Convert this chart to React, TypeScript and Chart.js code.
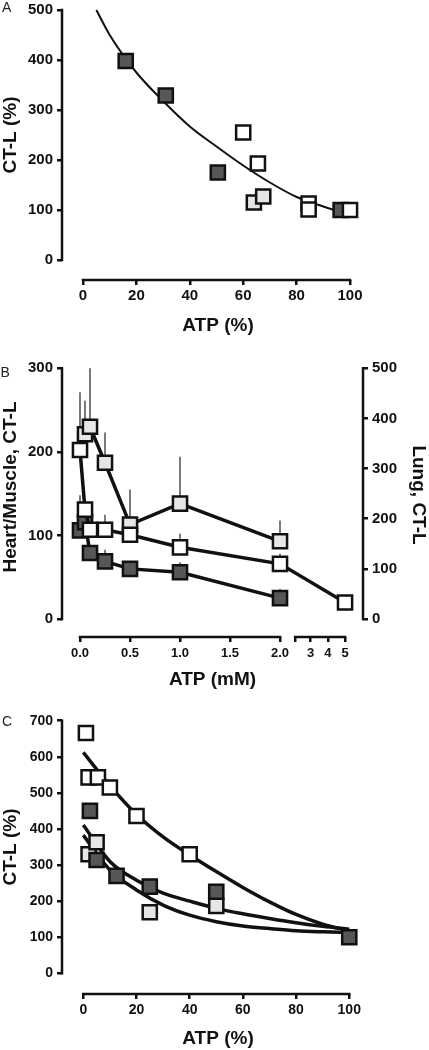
import React, { useEffect, useRef } from "react";
import { Chart, registerables } from "chart.js";

Chart.register(...registerables);

const FONT = "'Liberation Sans', Arial, Helvetica, sans-serif";
const INK = "#111111";
const DARK = "#575757";
const LIGHT = "#e6e6e6";
const WHITE = "#ffffff";

// ---------- Panel A ----------
const aXTicks = [0, 20, 40, 60, 80, 100];
const aYTicks = [0, 100, 200, 300, 400, 500];
const aDarkX = [16, 31, 50.5, 96.5];
const aDarkY = [398, 329, 175, 100];
const aWhiteX = [60, 65.5, 84.5, 84.5, 100];
const aWhiteY = [255, 193, 113, 101, 100];
const aLightX = [64, 67.5];
const aLightY = [115, 127];
const aFitX = [5, 10, 20, 30, 40, 50, 60, 70, 80, 90, 97];
const aFitY = [500, 450, 375, 318, 267, 227, 189, 155, 126, 107, 95];

// ---------- Panel B ----------
const bXTicks = [0, 0.5, 1, 1.5, 2, 2.09, 3, 4, 5];
const bXLabels = ["0.0", "0.5", "1.0", "1.5", "2.0", "", "3", "4", "5"];
const bLeftTicks = [0, 100, 200, 300];
const bRightTicks = [0, 100, 200, 300, 400, 500];
const bLightX = [0.05, 0.1, 0.25, 0.5, 1, 2];
const bLightY = [221, 230, 187, 113, 138, 93];
const bLightErr = [261, 300, 223, 155, 194, 118];
const bDarkX = [0, 0.05, 0.1, 0.25, 0.5, 1, 2];
const bDarkY = [106, 116, 79, 69, 60, 56, 25];
const bDarkErr = [148, null, null, 83, null, 68, 36];
const bLungX = [0, 0.05, 0.1, 0.25, 0.5, 1, 2, 5];
const bLungY = [337, 218, 178, 178, 168, 143, 110, 33];
const bLungErr = [452, null, null, 208, null, 170, 130, null];

// broken x axis: 0–2 mM linear, then a compressed 3–5 mM segment
function bAxis(x: number) {
  return x <= 2 ? x : 2.307 + (x - 3) * 0.1717;
}

// ---------- Panel C ----------
const cXTicks = [0, 20, 40, 60, 80, 100];
const cYTicks = [0, 100, 200, 300, 400, 500, 600, 700];
const cWhiteX = [1, 2, 5.5, 10, 20, 40];
const cWhiteY = [666, 543, 543, 515, 436, 330];
const cLightX = [2, 5, 25, 50];
const cLightY = [330, 363, 169, 187];
const cDarkX = [2.5, 5, 12.5, 25, 50, 100];
const cDarkY = [450, 314, 270, 240, 226, 100];
const cFitX = [0, 10, 20, 30, 40, 50, 60, 70, 80, 90, 100];
const cFitWhite = [612, 520, 440, 378, 328, 282, 238, 198, 163, 136, 118];
const cFitDark = [411, 310, 258, 222, 200, 180, 165, 152, 140, 130, 122];
const cFitLight = [383, 286, 231, 189, 161, 143, 131, 124, 118, 115, 113];

// ---------- helpers ----------
const zip = (xs: number[], ys: number[], map = (v: number) => v) =>
  xs.map((x, i) => ({ x: map(x), y: ys[i] }));

function pts(data: any[], fill: string, yAxisID = "y") {
  return {
    data,
    yAxisID,
    showLine: false,
    pointStyle: "rect",
    pointRadius: 10,
    pointBorderWidth: 2.5,
    pointBorderColor: INK,
    pointBackgroundColor: fill,
    clip: false,
  };
}

function series(data: any[], fill: string, yAxisID = "y") {
  return {
    ...pts(data, fill, yAxisID),
    showLine: true,
    borderColor: INK,
    borderWidth: 3.5,
    tension: 0,
  };
}

function fit(data: any[], width: number) {
  return {
    data,
    showLine: true,
    pointRadius: 0,
    borderColor: INK,
    borderWidth: width,
    tension: 0.4,
    cubicInterpolationMode: "monotone",
    fill: false,
    clip: false,
  };
}

function yScale(o: { min: number; max: number; ticks: number[]; width: number; position: string; size: number; pad: number }) {
  return {
    type: "linear",
    position: o.position,
    min: o.min,
    max: o.max,
    afterBuildTicks: (s: any) => {
      s.ticks = o.ticks.map((v) => ({ value: v }));
    },
    afterFit: (s: any) => {
      s.width = o.width;
      s.paddingTop = 0;
      s.paddingBottom = 0;
    },
    border: { display: false },
    grid: { display: true, drawOnChartArea: false, drawTicks: true, tickLength: 5, color: INK, lineWidth: 2.5 },
    ticks: {
      color: INK,
      padding: o.pad,
      font: { family: FONT, size: o.size, weight: "bold" },
      callback: (v: any) => String(v),
    },
  };
}

function xScale(o: { min: number; max: number; ticks: number[]; labels?: string[]; height: number; size: number; pad: number; title: string }) {
  return {
    type: "linear",
    position: "bottom",
    min: o.min,
    max: o.max,
    afterBuildTicks: (s: any) => {
      s.ticks = o.ticks.map((v) => ({ value: v }));
    },
    afterFit: (s: any) => {
      s.height = o.height;
      s.paddingLeft = 0;
      s.paddingRight = 0;
    },
    border: { display: false },
    grid: { display: true, drawOnChartArea: false, drawTicks: true, tickLength: 5, color: INK, lineWidth: 2.5 },
    ticks: {
      color: INK,
      padding: o.pad,
      autoSkip: false,
      maxRotation: 0,
      minRotation: 0,
      font: { family: FONT, size: o.size, weight: "bold" },
      callback: (v: any, i: number) => (o.labels ? o.labels[i] : String(v)),
    },
    title: {
      display: true,
      text: o.title,
      color: INK,
      padding: 0,
      font: { family: FONT, size: 19, weight: "bold" },
    },
  };
}

function axisLine(chart: any, id: string, from: number, to: number) {
  const s = chart.scales[id];
  const a = chart.chartArea;
  const ctx = chart.ctx;
  ctx.save();
  ctx.strokeStyle = INK;
  ctx.lineWidth = 2.5;
  ctx.lineCap = "square";
  ctx.beginPath();
  if (s.isHorizontal()) {
    ctx.moveTo(s.getPixelForValue(from), a.bottom);
    ctx.lineTo(s.getPixelForValue(to), a.bottom);
  } else {
    const x = s.position === "left" ? a.left : a.right;
    ctx.moveTo(x, s.getPixelForValue(from));
    ctx.lineTo(x, s.getPixelForValue(to));
  }
  ctx.stroke();
  ctx.restore();
}

function vText(ctx: any, text: string, x: number, y: number, rot: number) {
  ctx.save();
  ctx.translate(x, y);
  ctx.rotate(rot);
  ctx.font = `bold 19px ${FONT}`;
  ctx.fillStyle = INK;
  ctx.textAlign = "center";
  ctx.textBaseline = "middle";
  ctx.fillText(text, 0, 0);
  ctx.restore();
}

function letter(ctx: any, text: string, x: number, y: number) {
  ctx.save();
  ctx.font = `14px ${FONT}`;
  ctx.fillStyle = "#222";
  ctx.textAlign = "left";
  ctx.textBaseline = "alphabetic";
  ctx.fillText(text, x, y);
  ctx.restore();
}

function errBars(chart: any, yId: string, xs: number[], ys: number[], tops: (number | null)[], map = (v: number) => v) {
  const sx = chart.scales.x;
  const sy = chart.scales[yId];
  const ctx = chart.ctx;
  ctx.save();
  ctx.strokeStyle = "#333";
  ctx.lineWidth = 1.3;
  xs.forEach((x, i) => {
    const t = tops[i];
    if (t == null) return;
    const px = sx.getPixelForValue(map(x));
    ctx.beginPath();
    ctx.moveTo(px, sy.getPixelForValue(ys[i]));
    ctx.lineTo(px, sy.getPixelForValue(t));
    ctx.stroke();
  });
  ctx.restore();
}

const baseOptions = (padding: any) => ({
  responsive: false,
  animation: false,
  events: [],
  layout: { padding, autoPadding: false },
  plugins: { legend: { display: false }, tooltip: { enabled: false } },
});

// ---------- chart configs ----------
function configA() {
  return {
    type: "scatter",
    data: {
      datasets: [
        pts(zip(aLightX, aLightY), LIGHT),
        pts(zip(aWhiteX, aWhiteY), WHITE),
        pts(zip(aDarkX, aDarkY), DARK),
        fit(zip(aFitX, aFitY), 2),
      ],
    },
    options: {
      ...baseOptions({ left: 0, right: 429 - 374, top: 8, bottom: 345 - 337.4 }),
      scales: {
        x: xScale({ min: -7.865, max: 108.99, ticks: aXTicks, height: 337.4 - 280, size: 15, pad: 2, title: "ATP (%)" }),
        y: yScale({ min: -40, max: 504, ticks: aYTicks, width: 62, position: "left", size: 15, pad: 4 }),
      },
    },
    plugins: [
      {
        id: "decorA",
        afterDraw(chart: any) {
          axisLine(chart, "y", 0, 500);
          axisLine(chart, "x", 0, 100);
          vText(chart.ctx, "CT-L (%)", 10.5, 135, -Math.PI / 2);
          letter(chart.ctx, "A", 2, 12);
        },
      },
    ],
  };
}

function configB() {
  return {
    type: "scatter",
    data: {
      datasets: [
        series(zip(bLungX, bLungY, bAxis), WHITE, "y2"),
        series(zip(bLightX, bLightY, bAxis), LIGHT),
        series(zip(bDarkX, bDarkY, bAxis), DARK),
      ],
    },
    options: {
      ...baseOptions({ left: 0, right: 0, top: 20, bottom: 350 - 345.9 }),
      scales: {
        x: xScale({ min: -0.18, max: 2.83, ticks: bXTicks.map(bAxis), labels: bXLabels, height: 345.9 - 292, size: 13, pad: 4, title: "ATP (mM)" }),
        y: yScale({ min: -21.5, max: 303.9, ticks: bLeftTicks, width: 62, position: "left", size: 15, pad: 4 }),
        y2: yScale({ min: -35.83, max: 506.5, ticks: bRightTicks, width: 66, position: "right", size: 15, pad: 4 }),
      },
    },
    plugins: [
      {
        id: "decorB",
        beforeDatasetsDraw(chart: any) {
          errBars(chart, "y", bLightX, bLightY, bLightErr, bAxis);
          errBars(chart, "y", bDarkX, bDarkY, bDarkErr, bAxis);
          errBars(chart, "y2", bLungX, bLungY, bLungErr, bAxis);
        },
        afterDraw(chart: any) {
          axisLine(chart, "y", 0, 300);
          axisLine(chart, "y2", 0, 500);
          axisLine(chart, "x", bAxis(0), bAxis(2));
          axisLine(chart, "x", bAxis(2.09), bAxis(5));
          vText(chart.ctx, "Heart/Muscle, CT-L", 10.5, 142, -Math.PI / 2);
          vText(chart.ctx, "Lung, CT-L", 418, 150, Math.PI / 2);
          letter(chart.ctx, "B", 0.5, 32);
        },
      },
    ],
  };
}

function configC() {
  return {
    type: "scatter",
    data: {
      datasets: [
        pts(zip(cDarkX, cDarkY), DARK),
        pts(zip(cLightX, cLightY), LIGHT),
        pts(zip(cWhiteX, cWhiteY), WHITE),
        fit(zip(cFitX, cFitWhite), 3.5),
        fit(zip(cFitX, cFitDark), 3.5),
        fit(zip(cFitX, cFitLight), 3.5),
      ],
    },
    options: {
      ...baseOptions({ left: 0, right: 429 - 374, top: 26, bottom: 0 }),
      scales: {
        x: xScale({ min: -8.0, max: 109.3, ticks: cXTicks, height: 360 - 304, size: 14, pad: 3, title: "ATP (%)" }),
        y: yScale({ min: -57.4, max: 713, ticks: cYTicks, width: 62, position: "left", size: 14, pad: 4 }),
      },
    },
    plugins: [
      {
        id: "decorC",
        afterDraw(chart: any) {
          axisLine(chart, "y", 0, 700);
          axisLine(chart, "x", 0, 100);
          vText(chart.ctx, "CT-L (%)", 10.5, 157, -Math.PI / 2);
          letter(chart.ctx, "C", 2, 36);
        },
      },
    ],
  };
}

function Panel({ top, height, build }: { top: number; height: number; build: () => any }) {
  const ref = useRef<HTMLCanvasElement>(null);
  useEffect(() => {
    const chart = new Chart(ref.current as HTMLCanvasElement, build());
    return () => chart.destroy();
  }, []);
  return (
    <canvas
      ref={ref}
      width={429}
      height={height}
      style={{ position: "absolute", left: 0, top, width: 429, height, display: "block" }}
    />
  );
}

export default function App() {
  return (
    <div style={{ position: "absolute", left: 0, top: 0, width: 429, height: 1050, background: "#fff", overflow: "hidden" }}>
      <Panel top={0} height={345} build={configA} />
      <Panel top={345} height={350} build={configB} />
      <Panel top={690} height={360} build={configC} />
    </div>
  );
}
